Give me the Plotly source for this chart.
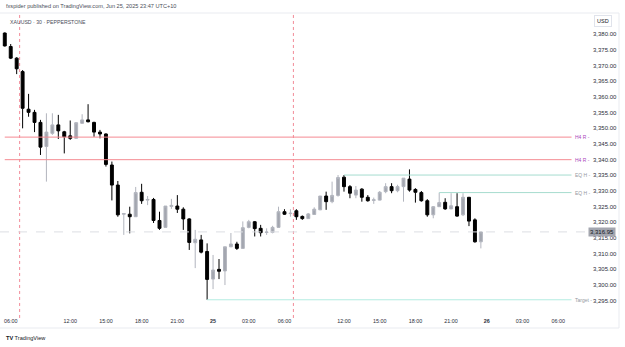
import pandas as pd
import plotly.graph_objects as go

# ---------------- data (XAUUSD, 30 min, UTC+10) ----------------
opens = [3380.4, 3376.1, 3372.4, 3368.1, 3356.1, 3355.1, 3351.9, 3344.2, 3348.4, 3351.1,
         3348.9, 3347.6, 3346.8, 3351.6, 3352.7, 3351.9, 3348.8, 3348.2, 3338.3, 3331.9,
         3322.6, 3322.6, 3321.8, 3329.6, 3327.1, 3327.3, 3320.6, 3318.4, 3325.1, 3325.2,
         3324.2, 3321.1, 3313.5, 3314.4, 3310.7, 3301.9, 3305.0, 3304.5, 3312.2, 3313.1,
         3311.7, 3318.4, 3320.2, 3318.1, 3316.8, 3316.8, 3318.4, 3323.4, 3322.8, 3323.7,
         3321.9, 3321.2, 3322.5, 3324.0, 3328.4, 3326.6, 3328.6, 3334.4, 3331.4, 3328.7,
         3330.6, 3328.0, 3327.0, 3327.1, 3329.8, 3331.4, 3330.1, 3331.4, 3333.8, 3330.5,
         3329.5, 3326.9, 3322.4, 3325.0, 3326.4, 3324.3, 3325.0, 3322.4, 3328.0, 3320.8,
         3313.8]
highs = [3380.6, 3376.9, 3372.7, 3368.6, 3361.0, 3355.9, 3352.7, 3354.8, 3354.8, 3354.3,
         3349.2, 3352.5, 3351.9, 3354.5, 3357.7, 3352.1, 3349.5, 3348.4, 3339.4, 3333.2,
         3323.0, 3325.0, 3331.3, 3332.3, 3328.4, 3327.8, 3323.4, 3325.2, 3327.5, 3328.7,
         3324.8, 3321.3, 3317.6, 3316.0, 3313.3, 3309.6, 3308.3, 3312.2, 3316.6, 3313.8,
         3320.3, 3320.8, 3320.4, 3319.2, 3318.1, 3318.9, 3325.0, 3324.2, 3324.2, 3324.2,
         3322.2, 3323.0, 3324.8, 3328.4, 3329.8, 3333.0, 3335.1, 3335.1, 3331.9, 3331.6,
         3330.9, 3328.7, 3327.9, 3330.0, 3332.5, 3332.5, 3332.0, 3334.1, 3336.9, 3330.9,
         3330.0, 3327.4, 3325.2, 3329.5, 3327.7, 3329.3, 3329.3, 3329.3, 3328.1, 3321.3,
         3316.95]
lows = [3376.1, 3372.1, 3367.3, 3350.0, 3353.7, 3348.8, 3341.5, 3333.0, 3347.9, 3346.6,
        3342.0, 3346.3, 3346.7, 3351.5, 3351.9, 3347.3, 3346.8, 3337.8, 3327.0, 3321.8,
        3316.0, 3316.5, 3321.8, 3325.9, 3325.5, 3319.8, 3317.6, 3318.4, 3324.3, 3323.0,
        3317.6, 3311.2, 3305.4, 3310.1, 3295.3, 3298.7, 3301.9, 3300.0, 3312.1, 3311.2,
        3311.6, 3318.1, 3315.5, 3315.5, 3316.0, 3316.5, 3318.3, 3322.4, 3321.8, 3320.8,
        3320.8, 3321.1, 3322.4, 3323.9, 3324.0, 3326.1, 3328.2, 3329.8, 3327.7, 3327.7,
        3326.6, 3326.6, 3325.9, 3327.0, 3329.3, 3329.3, 3329.6, 3326.6, 3329.8, 3326.3,
        3326.6, 3321.8, 3321.3, 3324.9, 3324.0, 3324.2, 3321.8, 3322.0, 3318.8, 3313.5,
        3311.7]
closes = [3376.3, 3372.4, 3369.0, 3356.4, 3355.1, 3351.9, 3344.0, 3348.8, 3351.1, 3349.2,
          3347.3, 3346.8, 3351.8, 3352.7, 3352.1, 3348.8, 3348.2, 3338.5, 3331.9, 3322.4,
          3322.8, 3321.8, 3329.5, 3326.9, 3327.3, 3320.6, 3318.1, 3325.2, 3325.4, 3324.2,
          3321.1, 3313.6, 3314.6, 3310.5, 3301.8, 3304.8, 3304.4, 3312.2, 3313.1, 3311.7,
          3318.3, 3320.2, 3318.0, 3316.7, 3316.9, 3318.4, 3323.4, 3322.6, 3322.9, 3321.8,
          3321.2, 3322.7, 3324.2, 3328.4, 3326.6, 3328.6, 3334.3, 3331.4, 3329.3, 3330.3,
          3328.0, 3326.9, 3327.2, 3329.6, 3331.4, 3330.1, 3331.4, 3334.1, 3330.3, 3329.6,
          3326.9, 3322.4, 3325.0, 3326.3, 3324.3, 3325.3, 3322.0, 3328.0, 3320.4, 3313.8,
          3316.95]

# levels drawn on the chart
level_prices = [3347.2, 3340.0, 3335.1, 3329.5, 3295.3]
level_labels = ["H4 R -", "H4 R -", "EQ H -", "EQ H -", "Target -"]
level_start_bar = [0, 0, 57, 73, 34]
level_colors = ["#f58a92", "#f58a92", "#a6dccf", "#a6dccf", "#b3ece2"]
level_text_colors = ["#ab47bc", "#ab47bc", "#9598a1", "#9598a1", "#9598a1"]
last_price = 3316.95

y_ticks = list(range(3295, 3381, 5))

# ---------------- time axis (30-min bars, daily break 07:00-08:00 removed) ----------------
times = pd.date_range("2025-06-24 05:30", "2025-06-26 08:30", freq="30min")
times = times[times.hour != 7]
n = len(closes)
xs = list(range(n))

tick_hours = {0, 3, 6, 12, 15, 18, 21}
tickvals, ticktext = [], []
for k, t in enumerate(times):
    if t.minute == 0 and t.hour in tick_hours:
        tickvals.append(k)
        ticktext.append(f"<b>{t.day}</b>" if t.hour == 0 else t.strftime("%H:%M"))

breaks = [k - 0.5 for k in range(1, n) if (times[k] - times[k - 1]) > pd.Timedelta("30min")]

x_range = [-0.8, 98.0]
y_range = [3291.4, 3386.8]
line_end = x_range[0] + (x_range[1] - x_range[0]) * 0.972

fig = go.Figure()
fig.add_trace(go.Candlestick(
    x=xs, open=opens, high=highs, low=lows, close=closes,
    increasing=dict(line=dict(color="#b2b5be", width=1), fillcolor="#a3a6af"),
    decreasing=dict(line=dict(color="#000000", width=1), fillcolor="#000000"),
    whiskerwidth=0, hoverinfo="skip", showlegend=False,
))

shapes = []
# session breaks
for b in breaks:
    shapes.append(dict(type="line", xref="x", yref="paper", x0=b, x1=b, y0=-0.02, y1=1,
                       line=dict(color="#f28b98", width=1, dash="dot")))
# last price line
shapes.append(dict(type="line", xref="paper", yref="y", x0=0, x1=1, y0=last_price, y1=last_price,
                   line=dict(color="#dcdee3", width=1, dash="dash")))
# levels
for p, s, c in zip(level_prices, level_start_bar, level_colors):
    shapes.append(dict(type="line", xref="x", yref="y", x0=s, x1=line_end, y0=p, y1=p,
                       line=dict(color=c, width=1)))
# panel border
shapes.append(dict(type="rect", xref="paper", yref="paper", x0=-0.01, x1=619 / 588,
                   y0=(312 - 328) / 299, y1=1.0, line=dict(color="#e9ebf0", width=1)))

annotations = []
for p, lab, tc in zip(level_prices, level_labels, level_text_colors):
    annotations.append(dict(x=line_end, y=p, xref="x", yref="y", text=lab, showarrow=False,
                            xanchor="left", yanchor="middle", xshift=1,
                            font=dict(size=5, color=tc, family="Liberation Sans")))
annotations.append(dict(x=1, y=last_price, xref="paper", yref="y", text=f"{last_price:,.2f}",
                        showarrow=False, xanchor="left", yanchor="middle", xshift=0,
                        bgcolor="#a3a6af", borderpad=1,
                        font=dict(size=6, color="#131722", family="Liberation Sans")))
annotations.append(dict(x=1, y=(312 - 21) / 299, xref="paper", yref="paper", text="USD",
                        showarrow=False, xanchor="left", yanchor="middle", xshift=6,
                        bordercolor="#e0e3eb", borderwidth=1, borderpad=2,
                        font=dict(size=5.5, color="#131722", family="Liberation Sans")))
annotations.append(dict(x=4 / 588, y=(312 - 6) / 299, xref="paper", yref="paper",
                        text="fxspider published on TradingView.com, Jun 25, 2025 23:47 UTC+10",
                        showarrow=False, xanchor="left", yanchor="middle",
                        font=dict(size=5.6, color="#4a4e59", family="Liberation Sans")))
annotations.append(dict(x=8 / 588, y=(312 - 22) / 299, xref="paper", yref="paper",
                        text="XAUUSD · 30 · PEPPERSTONE",
                        showarrow=False, xanchor="left", yanchor="middle",
                        font=dict(size=5.2, color="#4a4e59", family="Liberation Sans")))
annotations.append(dict(x=4 / 588, y=(312 - 338) / 299, xref="paper", yref="paper",
                        text="<b>TV</b> TradingView",
                        showarrow=False, xanchor="left", yanchor="middle",
                        font=dict(size=5.6, color="#131722", family="Liberation Sans")))

fig.update_layout(
    width=625, height=347,
    margin=dict(l=0, r=37, t=13, b=35),
    paper_bgcolor="white", plot_bgcolor="white",
    shapes=shapes, annotations=annotations,
    showlegend=False,
    xaxis=dict(range=x_range, tickvals=tickvals, ticktext=ticktext, showgrid=False,
               zeroline=False, showline=False, ticks="", ticklabelstandoff=5,
               rangeslider=dict(visible=False), fixedrange=True,
               tickfont=dict(size=5.4, color="#2a2e39", family="Liberation Sans")),
    yaxis=dict(range=y_range, side="right", tickvals=y_ticks,
               ticktext=[f"{v:,.2f}" for v in y_ticks], showgrid=False, zeroline=False,
               showline=False, ticks="", ticklabelstandoff=4, fixedrange=True,
               tickfont=dict(size=6, color="#2a2e39", family="Liberation Sans")),
)

fig.write_html("out.html", config={"displayModeBar": False})
